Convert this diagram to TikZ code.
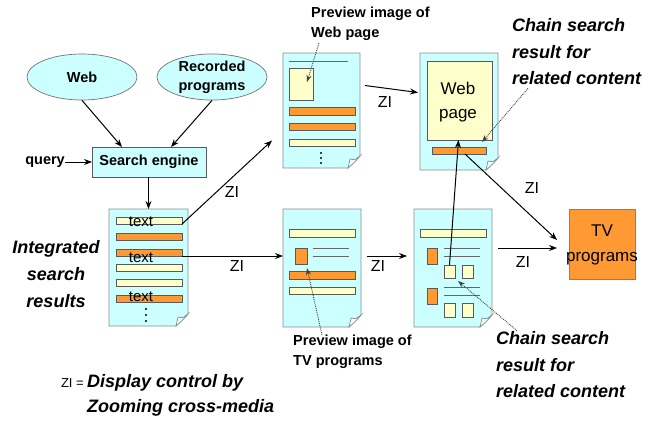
\documentclass[tikz,border=0pt]{standalone}
\usepackage{fontspec}
\setmainfont{Liberation Sans}
\usetikzlibrary{shapes.geometric,arrows.meta}
\definecolor{cyanfill}{HTML}{CCFFFF}
\definecolor{orangefill}{HTML}{FF9933}
\definecolor{yelfill}{HTML}{FFFFCC}
\definecolor{docline}{HTML}{8C8C8C}
\tikzset{
  arr/.style={draw=black, line width=1pt, -{Stealth[length=8pt,width=6pt]}},
  dotarr/.style={draw=black!75, line width=0.9pt, densely dotted, -{Stealth[length=7pt,width=5pt]}},
  ybar/.style={fill=yelfill, draw=black!65, line width=0.6pt},
  obar/.style={fill=orangefill, draw=black!65, line width=0.6pt},
  ell/.style={ellipse, fill=cyanfill, draw=black!55, line width=0.7pt, inner sep=0pt, align=center, font=\bfseries\fontsize{14.5}{19}\selectfont},
  lbl/.style={inner sep=0pt, font=\bfseries\fontsize{14.5}{20}\selectfont, align=left},
  zi/.style={inner sep=0pt, font=\fontsize{16}{18}\selectfont},
  big/.style={inner sep=0pt, font=\bfseries\itshape\fontsize{18}{26.5}\selectfont},
  txt/.style={inner sep=0pt, font=\fontsize{15}{17}\selectfont},
  docline/.style={draw=black!60, line width=0.8pt},
}
\newcommand\bx[6]{\node[#2, inner sep=0pt, outer sep=0pt, anchor=north west, minimum width={(#5-#3)*1pt}, minimum height={(#6-#4)*1pt}] (#1) at (#3,#4) {};}
\newcommand\docpage[5]{%
  \filldraw[fill=cyanfill, draw=docline, line width=0.9pt] (#2,#3) -- (#4,#3) -- (#4,#5-12) -- (#4-12,#5) -- (#2,#5) -- cycle;
  \filldraw[fill=cyanfill!40!white, draw=docline, line width=0.7pt] (#4,#5-12) .. controls (#4-5,#5-8) .. (#4-10,#5-9) -- (#4-12,#5) .. controls (#4-6,#5-5) .. cycle;
  \bx{#1}{}{#2}{#3}{#4}{#5}
}
\begin{document}
\begin{tikzpicture}[x=1pt,y=-1pt]
\useasboundingbox (0,0) rectangle (655,423);
\fill[white] (0,0) rectangle (655,423);

% sources
\node[ell, minimum width=110, minimum height=46] (web) at (82,77) {Web};
\node[ell, minimum width=110, minimum height=46] (rec) at (212,77) {Recorded\\programs};
\bx{se}{fill=cyanfill, draw=black!65, line width=0.8pt}{92}{147}{206}{177}
\node[lbl] at (se.center) {Search engine};
\node[lbl, anchor=east] (q) at (65,162) {query};

% integrated results document
\docpage{int}{109}{209}{188}{326}
\bx{b1}{ybar}{116}{217}{182}{224}
\bx{b2}{obar}{116}{233}{182}{240}
\bx{b3}{obar}{116}{249}{182}{256}
\bx{b4}{ybar}{116}{264}{182}{271}
\bx{b5}{ybar}{116}{279}{182}{286}
\bx{b6}{obar}{116}{295}{182}{302}
\node[txt] (t1) at (141,222) {text};
\node[txt] (t2) at (141,258) {text};
\node[txt] (t3) at (141,297) {text};
\foreach \yy in {309,315,321} \fill (146,\yy) circle (1.1);

% web preview document
\docpage{wp}{283}{53}{360}{168}
\draw[docline] (289,61) -- (348,61);
\bx{wpimg}{ybar}{289}{68}{313}{100}
\bx{wpb1}{obar}{289}{107}{355}{115}
\bx{wpb2}{obar}{289}{123}{355}{130}
\bx{wpb3}{ybar}{289}{139}{355}{146}
\foreach \yy in {153,158,163} \fill (321,\yy) circle (1.1);
\node[lbl, anchor=north west] (pwl) at (311,7) {Preview image of\\Web page};

% web page document
\docpage{wb}{420}{53}{498}{170}
\bx{wbimg}{ybar}{427}{61}{492}{140}
\node[inner sep=0pt, align=center, font=\fontsize{17}{24}\selectfont] (wbt) at (458,102) {Web\\page};
\bx{wbbar}{obar}{432}{147}{486}{154}
\node[big, anchor=west, align=left] (cs1) at (512,52) {Chain search\\result for\\related content};

% TV preview document
\docpage{tvd}{283}{209}{361}{327}
\bx{tvb1}{ybar}{289}{229}{355}{237}
\bx{tvimg}{obar}{295}{248}{307}{264}
\draw[docline] (313,248) -- (349,248) (313,256) -- (349,256);
\bx{tvb2}{obar}{289}{271}{355}{279}
\bx{tvb3}{ybar}{289}{287}{355}{294}
\node[lbl, anchor=north west] (tvl) at (293,335) {Preview image of\\TV programs};

% chain result document
\docpage{d5}{414}{209}{492}{327}
\bx{d5b}{ybar}{420}{229}{486}{237}
\bx{d5o1}{obar}{427}{248}{437}{264}
\draw[docline] (444,248) -- (480,248) (444,256) -- (480,256);
\bx{sq1}{ybar}{444}{265}{455}{278}
\bx{sq2}{ybar}{462}{265}{473}{278}
\bx{d5o2}{obar}{427}{288}{437}{304}
\draw[docline] (444,287) -- (480,287) (444,295) -- (480,295);
\bx{sq3}{ybar}{444}{303}{455}{317}
\bx{sq4}{ybar}{462}{303}{473}{317}
\node[big, anchor=west, align=left] (cs2) at (496,365) {Chain search\\result for\\related content};

% TV programs
\bx{tvbox}{fill=orangefill, draw=black!50, line width=0.8pt}{569}{209}{635}{279}
\node[inner sep=0pt, align=center, font=\fontsize{17}{25}\selectfont] (tvt) at (602,245) {TV\\programs};

% left / bottom texts
\node[big, align=center, font=\bfseries\itshape\fontsize{18}{27}\selectfont] (isr) at (56,274) {Integrated\\search\\results};
\node[inner sep=0pt, anchor=east, font=\fontsize{13}{15}\selectfont] (zl) at (84,383) {ZI =};
\node[big, anchor=west, align=left, font=\bfseries\itshape\fontsize{18}{25}\selectfont] (leg) at (87,395.5) {Display control by\\Zooming cross-media};

% connectors
\draw[arr] (q) -- (se);
\draw[arr] (web.south) -- ([xshift=30pt]se.north west);
\draw[arr] (rec.south) -- ([xshift=-35pt]se.north east);
\draw[arr] (se.south -| int.north) -- (int.north);
\draw[arr] (b1.south east) -- ([xshift=-11pt,yshift=-30pt]wp.west);
\node[zi] (z1) at (232,192) {ZI};
\draw[arr] (b3.south east) -- (b3.south east -| tvd.west);
\node[zi] (z2) at (237,266) {ZI};
\draw[dotarr] ([xshift=8pt,yshift=-2pt]pwl.south west) -- ([xshift=6pt,yshift=2pt]wpimg.center);
\draw[arr] ([xshift=5pt,yshift=25pt]wp.east) -- ([xshift=-2pt,yshift=19pt]wb.west);
\node[zi] (z3) at (385,102) {ZI};
\draw[dotarr] ([xshift=16pt,yshift=-3pt]cs1.south west) -- ([xshift=-4pt,yshift=5pt]wbbar.north east);
\draw[arr] (sq1.north) -- ([xshift=-1pt]wbimg.south);
\draw[arr] ([xshift=6pt]wbbar.south) -- ([xshift=-12pt,yshift=-31pt]tvbox.north west);
\node[zi] (z4) at (532,188) {ZI};
\draw[dotarr] ([xshift=29pt]tvl.north west) -- ([yshift=-4pt]tvimg.south east);
\draw[arr] ([xshift=6pt,yshift=12pt]tvd.east) -- ([xshift=-7pt,yshift=12pt]d5.west);
\node[zi] (z5) at (378,266) {ZI};
\draw[dotarr] ([xshift=21pt,yshift=1pt]cs2.north west) -- ([xshift=3pt,yshift=-3pt]sq1.south east);
\draw[arr] ([xshift=6pt,yshift=20pt]d5.east) -- ([xshift=-12pt,yshift=-4pt]tvbox.west);
\node[zi] (z6) at (523,262) {ZI};
\end{tikzpicture}
\end{document}
